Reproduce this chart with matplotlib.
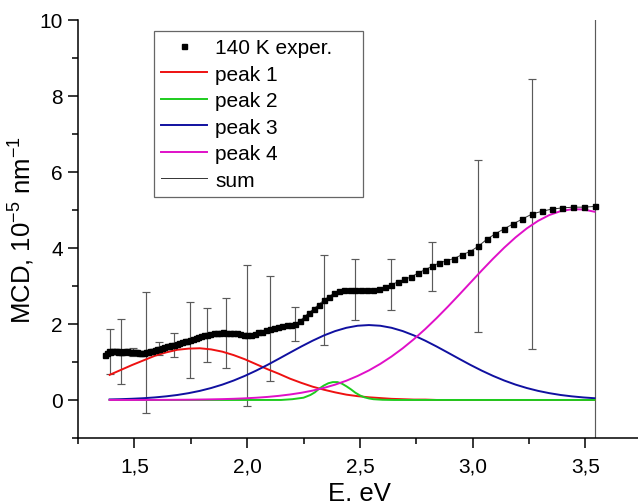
import numpy as np
import matplotlib
matplotlib.use("Agg")
import matplotlib.pyplot as plt
from matplotlib.ticker import MultipleLocator, FuncFormatter
from matplotlib.lines import Line2D

plt.rcParams["font.family"] = ["Liberation Sans", "DejaVu Sans"]
plt.rcParams["mathtext.fontset"] = "custom"
plt.rcParams["mathtext.rm"] = "Liberation Sans"
plt.rcParams["mathtext.default"] = "regular"

# measured MCD at 140 K, wavelength grid 905 -> 350 nm in 5 nm steps
wavelength_nm = np.arange(905, 345, -5)
mcd = [1.17, 1.24, 1.29, 1.27, 1.30, 1.30, 1.28, 1.27, 1.29, 1.27,
       1.26, 1.28, 1.29, 1.27, 1.25, 1.26, 1.27, 1.25, 1.23, 1.24,
       1.23, 1.25, 1.26, 1.28, 1.30, 1.32, 1.34, 1.35, 1.37, 1.40,
       1.42, 1.43, 1.44, 1.45, 1.48, 1.50, 1.53, 1.54, 1.56, 1.58,
       1.61, 1.63, 1.65, 1.67, 1.70, 1.71, 1.73, 1.75, 1.76, 1.77,
       1.78, 1.77, 1.77, 1.76, 1.75, 1.73, 1.71, 1.70, 1.70, 1.74,
       1.78, 1.80, 1.84, 1.87, 1.90, 1.93, 1.95, 1.96, 1.97, 2.00,
       2.08, 2.19, 2.30, 2.40, 2.51, 2.62, 2.72, 2.80, 2.86, 2.89,
       2.90, 2.90, 2.89, 2.89, 2.90, 2.92, 2.97, 3.03, 3.10, 3.17,
       3.23, 3.33, 3.42, 3.51, 3.60, 3.66, 3.72, 3.82, 3.90, 4.04,
       4.22, 4.37, 4.50, 4.63, 4.76, 4.89, 4.96, 5.02, 5.05, 5.07,
       5.07, 5.09]
E = 1240.0 / wavelength_nm

# error bars every 30 nm
err_wl = [890, 860, 830, 800, 770, 740, 710, 680, 650, 620,
          590, 560, 530, 500, 470, 440, 410, 380, 350]
err_half = [0.60, 0.86, 0.11, 1.60, 0.18, 0.31, 0.99, 0.72, 0.92, 1.86,
            1.38, 0.45, 1.18, 0.80, 0.67, 0.65, 2.26, 3.54, 20.0]

# fitted components
E_fit = [1.39, 1.44, 1.49, 1.54, 1.59, 1.64, 1.69, 1.74, 1.79, 1.84,
         1.89, 1.94, 1.99, 2.04, 2.09, 2.14, 2.19, 2.24, 2.29, 2.34,
         2.39, 2.44, 2.49, 2.54, 2.59, 2.64, 2.69, 2.74, 2.79, 2.84,
         2.89, 2.94, 2.99, 3.04, 3.09, 3.14, 3.19, 3.24, 3.29, 3.34,
         3.39, 3.44, 3.49, 3.54]
peak1 = [0.66, 0.79, 0.92, 1.04, 1.16, 1.25, 1.32, 1.35, 1.36, 1.33,
         1.27, 1.18, 1.07, 0.94, 0.81, 0.69, 0.56, 0.45, 0.35, 0.27,
         0.20, 0.14, 0.10, 0.07, 0.05, 0.03, 0.02, 0.01, 0.01, 0.0,
         0.0, 0.0, 0.0, 0.0, 0.0, 0.0, 0.0, 0.0, 0.0, 0.0,
         0.0, 0.0, 0.0, 0.0]
peak3 = [0.014, 0.021, 0.032, 0.046, 0.067, 0.095, 0.131, 0.179, 0.239, 0.314,
         0.404, 0.511, 0.634, 0.772, 0.922, 1.082, 1.245, 1.406, 1.558, 1.696,
         1.811, 1.898, 1.952, 1.970, 1.952, 1.898, 1.811, 1.696, 1.558, 1.406,
         1.245, 1.082, 0.922, 0.772, 0.634, 0.511, 0.404, 0.314, 0.239, 0.179,
         0.131, 0.095, 0.067, 0.046]
peak4 = [0.0, 0.0, 0.0, 0.001, 0.002, 0.003, 0.005, 0.007, 0.011, 0.016,
         0.022, 0.031, 0.043, 0.059, 0.080, 0.108, 0.144, 0.189, 0.246, 0.317,
         0.403, 0.507, 0.632, 0.778, 0.948, 1.142, 1.360, 1.602, 1.867, 2.153,
         2.454, 2.767, 3.086, 3.404, 3.713, 4.006, 4.275, 4.512, 4.710, 4.863,
         4.966, 5.015, 5.010, 4.950]
E_p2 = [1.39, 2.15, 2.20, 2.25, 2.28, 2.30, 2.32, 2.34, 2.36, 2.38,
        2.40, 2.42, 2.44, 2.46, 2.48, 2.50, 2.52, 2.54, 2.56, 2.60,
        2.65, 3.54]
peak2 = [0.0, 0.0, 0.02, 0.06, 0.13, 0.20, 0.30, 0.38, 0.44, 0.47,
         0.47, 0.43, 0.36, 0.28, 0.19, 0.12, 0.07, 0.04, 0.02, 0.005,
         0.0, 0.0]

fig = plt.figure(figsize=(6.38, 5.02), dpi=100)
ax = fig.add_axes([0.1223, 0.1255, 0.8837, 0.8333])

idx = [list(wavelength_nm).index(w) for w in err_wl]
ax.errorbar(E[idx], np.array(mcd)[idx], yerr=err_half, fmt="none",
            ecolor="#5a5a5a", elinewidth=0.85, capsize=3.2, capthick=0.85, zorder=2)

c_red, c_green, c_blue, c_mag = "#ee1111", "#1ecc1e", "#1010a0", "#e010c8"
ax.plot(E_fit, peak1, color=c_red, lw=1.4, zorder=3)
ax.plot(E_fit, peak3, color=c_blue, lw=1.4, zorder=3)
ax.plot(E_p2, peak2, color=c_green, lw=1.4, zorder=3)
ax.plot(E_fit, peak4, color=c_mag, lw=1.4, zorder=3)
ax.plot(E, mcd, color="#333333", lw=0.7, zorder=4)
ax.plot(E, mcd, "s", color="black", ms=3.6, zorder=5)

ax.set_xlim(1.25, 3.75)
ax.set_ylim(-1, 10)
ax.xaxis.set_major_locator(MultipleLocator(0.5))
ax.xaxis.set_minor_locator(MultipleLocator(0.25))
ax.yaxis.set_major_locator(MultipleLocator(2))
ax.yaxis.set_minor_locator(MultipleLocator(1))
ax.xaxis.set_major_formatter(FuncFormatter(lambda v, p: f"{v:.1f}".replace(".", ",")))
ax.yaxis.set_major_formatter(FuncFormatter(lambda v, p: f"{v:.0f}"))
ax.tick_params(which="major", direction="out", length=7, width=1.1, labelsize=15, pad=4)
ax.tick_params(which="minor", direction="out", length=4, width=1.1)
ax.tick_params(axis="x", which="major", pad=6)
for s in ("top", "right"):
    ax.spines[s].set_visible(False)
for s in ("left", "bottom"):
    ax.spines[s].set_linewidth(1.1)

ax.set_xlabel("E, eV", fontsize=18.5, labelpad=4)
ax.set_ylabel("MCD, 10$^{-5}$ nm$^{-1}$", fontsize=18.5, labelpad=2)

handles = [Line2D([], [], ls="none", marker="s", color="black", ms=3.6),
           Line2D([], [], color=c_red, lw=1.4),
           Line2D([], [], color=c_green, lw=1.4),
           Line2D([], [], color=c_blue, lw=1.4),
           Line2D([], [], color=c_mag, lw=1.4),
           Line2D([], [], color="#333333", lw=0.7)]
labels = ["140 K exper.    ", "peak 1", "peak 2", "peak 3", "peak 4", "sum"]
leg = fig.legend(handles, labels, loc="upper left",
                 bbox_to_anchor=(154 / 638, 1 - 32 / 502), borderaxespad=0,
                 fontsize=15, frameon=True, fancybox=False, framealpha=1,
                 edgecolor="#666666", handlelength=2.2, handletextpad=0.4,
                 labelspacing=0.36, borderpad=0.35)
leg.get_frame().set_linewidth(0.9)

fig.savefig("out.png", dpi=100)
